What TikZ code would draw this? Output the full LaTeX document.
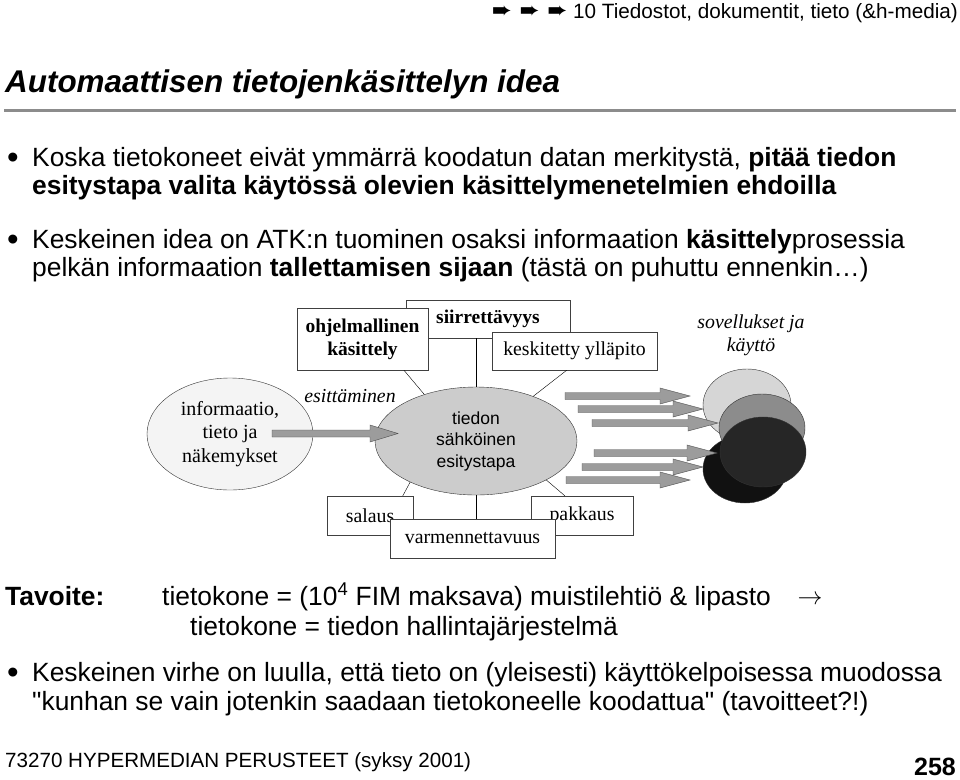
\documentclass[tikz,border=0pt]{standalone}
\usepackage{fontspec}
\setmainfont{Liberation Sans}[Ligatures=TeXOff]
\newfontfamily\timesfont{Liberation Serif}
\newfontfamily\symbfont{DejaVu Sans}
\usepackage{xcolor}
\usetikzlibrary{shapes.geometric, positioning}

\definecolor{rulegray}{HTML}{8C8C8C}
\definecolor{paleell}{HTML}{F4F4F4}
\definecolor{coreell}{HTML}{CCCCCC}
\definecolor{arrowfill}{HTML}{9C9C9C}
\definecolor{appA}{HTML}{D6D6D6}
\definecolor{appB}{HTML}{111111}
\definecolor{appC}{HTML}{8C8C8C}
\definecolor{appD}{HTML}{262626}

\newcommand\fs[2]{\fontsize{#1}{#2}\selectfont}

\begin{document}
\begin{tikzpicture}[x=1pt, y=-1pt,
  line/.style={anchor=base west, inner sep=0pt, font=\fs{26.4}{29}},
  dot/.style={anchor=base, inner sep=0pt, font=\fs{33}{36}},
  box/.style={draw=black!75, fill=white, inner sep=0pt, align=center,
    font=\timesfont\fs{19.8}{23}},
  blob/.style={ellipse, draw=black!80, inner sep=0pt},
  blockarrow/.style={draw=black!70, fill=arrowfill, line join=miter}]
  \useasboundingbox (0,0) rectangle (960,779);

  %% header and title
  \node[anchor=base east, inner sep=0pt, font=\fs{20.7}{23}] (hdr) at (958,18)
    {{\symbfont\fs{24}{26}➨ ➨ ➨} 10 Tiedostot, dokumentit, tieto (\&h-media)};
  \node[anchor=base west, inner sep=0pt, font=\bfseries\itshape\fs{31.4}{34}] (title) at (5,92)
    {Automaattisen tietojenkäsittelyn idea};
  \draw[rulegray, line width=3pt] (4,110) -- (956,110);

  %% bullets
  \node[dot] (b1) at (13,168) {•};
  \node[line] (k1) at (32,166) {Koska tietokoneet eivät ymmärrä koodatun datan merkitystä, \textbf{pitää tiedon}};
  \node[line] (k2) at (32,194) {\textbf{esitystapa valita käytössä olevien käsittelymenetelmien ehdoilla}};
  \node[dot] (b2) at (13,250) {•};
  \node[line] (k3) at (32,248) {Keskeinen idea on ATK:n tuominen osaksi informaation \textbf{käsittely}prosessia};
  \node[line] (k4) at (32,276) {pelkän informaation \textbf{tallettamisen sijaan} (tästä on puhuttu ennenkin…)};

  %% diagram: boxes above
  \node[box, minimum width=164pt, minimum height=38pt, font=\timesfont\bfseries\fs{19.5}{23}] (siirr) at (488,319) {siirrettävyys};
  \node[box, minimum width=131pt, minimum height=62pt, font=\timesfont\bfseries\fs{19.5}{23}] (ohj) at (362.5,339) {ohjelmallinen\\käsittely};
  \node[box, minimum width=165pt, minimum height=38pt] (kesk) at (574.5,351) {keskitetty ylläpito};
  \node[align=center, font=\timesfont\itshape\fs{19.8}{23}] (sov) at (751,335) {sovellukset ja\\käyttö};

  %% ellipses
  \node[blob, fill=paleell, minimum width=166pt, minimum height=112pt, align=center,
    font=\timesfont\fs{20}{23.5}] (info) at (230,434) {informaatio,\\tieto ja\\näkemykset};
  \node[blob, fill=coreell, minimum width=202pt, minimum height=108pt, align=center,
    font=\fs{17.5}{21.5}] (tiedon) at (476,441) {tiedon\\sähköinen\\esitystapa};
  \node[font=\timesfont\itshape\fs{19.8}{23}] (esit) at (350,396) {esittäminen};

  \draw (tiedon.north |- siirr.south) -- (tiedon.north);
  \draw (ohj.323) -- (tiedon.138);
  \draw (kesk.248) -- (tiedon.38);

  %% boxes below
  \node[box, minimum width=86pt, minimum height=39pt] (salaus) at (370,515.5) {salaus};
  \node[box, minimum width=102pt, minimum height=39pt] (pakk) at (582,515.5) {pakkaus};
  \node[box, minimum width=165pt, minimum height=39pt] (varm) at (472.5,538.5) {varmennettavuus};
  \draw (tiedon.212) -- (salaus.31);
  \draw (tiedon.331) -- (pakk.131);
  \draw (tiedon.south) -- (varm.north -| tiedon.south);

  %% presentation arrow
  \draw[blockarrow] (272,430) -- (370,430) -- (370,425) -- (398,433.5)
    -- (370,442) -- (370,437) -- (272,437) -- cycle;

  %% applications
  \node[blob, fill=appA, minimum width=88pt, minimum height=72pt] (appa) at (747,405) {};
  \node[blob, fill=appB, minimum width=84pt, minimum height=68pt] (appb) at (745,469) {};
  \node[blob, fill=appC, minimum width=86pt, minimum height=68pt] (appc) at (762,428) {};
  \node[blob, fill=appD, minimum width=86pt, minimum height=70pt] (appd) at (763,452) {};

  \foreach \sx/\tx/\ay in {565/690/396, 578/703/409, 592/718/423,
                           566/690/480, 582/703/467, 594/717/453}{
    \pgfmathsetmacro\hx{\tx-30}
    \draw[blockarrow] (\sx,\ay-3.5) -- (\hx,\ay-3.5) -- (\hx,\ay-8) -- (\tx,\ay)
      -- (\hx,\ay+8) -- (\hx,\ay+3.5) -- (\sx,\ay+3.5) -- cycle;
  }

  %% goal
  \node[line, font=\bfseries\fs{26.4}{29}] (tav) at (5,605) {Tavoite:};
  \node[line] (t1) at (162,605) {tietokone = (10\textsuperscript{4} FIM maksava) muistilehtiö \& lipasto};
  \node[anchor=base, inner sep=0pt, font=\fs{30}{32}] (to) at (810,604) {$\rightarrow$};
  \node[line] (t2) at (190,635) {tietokone = tiedon hallintajärjestelmä};

  \node[dot] (b3) at (13,683) {•};
  \node[line] (v1) at (32,681) {Keskeinen virhe on luulla, että tieto on (yleisesti) käyttökelpoisessa muodossa};
  \node[line] (v2) at (32,710) {"kunhan se vain jotenkin saadaan tietokoneelle koodattua" (tavoitteet?!)};

  %% footer
  \node[anchor=base west, inner sep=0pt, font=\fs{20.6}{23}] (foot) at (5,767) {73270 HYPERMEDIAN PERUSTEET (syksy 2001)};
  \node[anchor=base east, inner sep=0pt, font=\bfseries\fs{25}{28}] (page) at (956,775) {258};
\end{tikzpicture}
\end{document}
